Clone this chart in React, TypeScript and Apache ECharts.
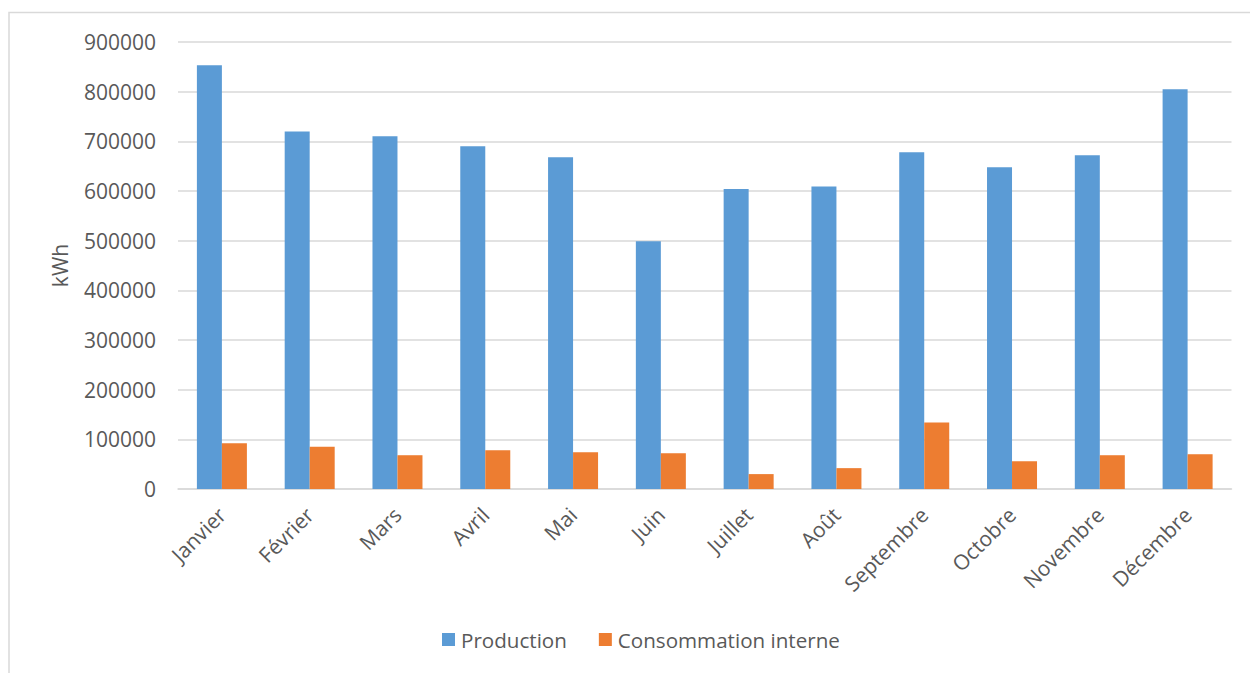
import React, { useEffect, useRef } from "react";
import * as echarts from "echarts";

const months = [
  "Janvier", "Février", "Mars", "Avril", "Mai", "Juin",
  "Juillet", "Août", "Septembre", "Octobre", "Novembre", "Décembre",
];
const production = [
  853000, 720000, 710000, 690000, 668000, 499000,
  604000, 609000, 678000, 648000, 672000, 805000,
];
const consommationInterne = [
  92000, 85000, 68000, 78000, 74000, 72000,
  30000, 42000, 134000, 56000, 68000, 70000,
];
const yMax = 900000;
const yStep = 100000;

const FONT = "'Open Sans', 'Noto Sans', sans-serif";
const TEXT = "#595959";
const GRID = "#d9d9d9";

export default function App() {
  const ref = useRef<HTMLDivElement>(null);

  useEffect(() => {
    if (!ref.current) return;
    const chart = echarts.init(ref.current, null, { renderer: "svg" });
    chart.setOption({
      animation: false,
      backgroundColor: "#ffffff",
      textStyle: { fontFamily: FONT, color: TEXT },
      graphic: [
        {
          type: "rect",
          shape: { x: 9, y: 12.5, width: 1300, height: 700 },
          style: { fill: "none", stroke: GRID, lineWidth: 1.5 },
          silent: true,
        },
      ],
      grid: { left: 178, right: 18.5, top: 42, bottom: 184, containLabel: false },
      legend: {
        bottom: 18,
        left: 437,
        icon: "rect",
        itemWidth: 13,
        itemHeight: 13,
        itemGap: 32,
        textStyle: { fontFamily: FONT, fontSize: 20.6, color: TEXT, padding: [0, 0, 0, 1] },
        data: ["Production", "Consommation interne"],
      },
      xAxis: {
        type: "category",
        data: months,
        axisLine: { lineStyle: { color: GRID, width: 1.5 } },
        axisTick: { show: false },
        axisLabel: {
          rotate: 45,
          margin: 22,
          fontFamily: FONT,
          fontSize: 21,
          color: TEXT,
          interval: 0,
        },
      },
      yAxis: {
        type: "value",
        min: 0,
        max: yMax,
        interval: yStep,
        name: "kWh",
        nameLocation: "middle",
        nameGap: 108,
        nameTextStyle: { fontFamily: FONT, fontSize: 21, color: TEXT },
        axisLine: { show: false },
        axisTick: { show: false },
        splitLine: { lineStyle: { color: GRID, width: 1.5 } },
        axisLabel: {
          margin: 22,
          fontFamily: FONT,
          fontSize: 21,
          color: TEXT,
          formatter: (v: number) => String(v),
        },
      },
      series: [
        {
          name: "Production",
          type: "bar",
          data: production,
          barWidth: 25,
          barGap: "0%",
          itemStyle: { color: "#5B9BD5" },
        },
        {
          name: "Consommation interne",
          type: "bar",
          data: consommationInterne,
          barWidth: 25,
          barGap: "0%",
          itemStyle: { color: "#ED7D31" },
        },
      ],
    });
    return () => chart.dispose();
  }, []);

  return (
    <div
      ref={ref}
      style={{ position: "fixed", left: 0, top: 0, width: 1250, height: 673 }}
    />
  );
}
